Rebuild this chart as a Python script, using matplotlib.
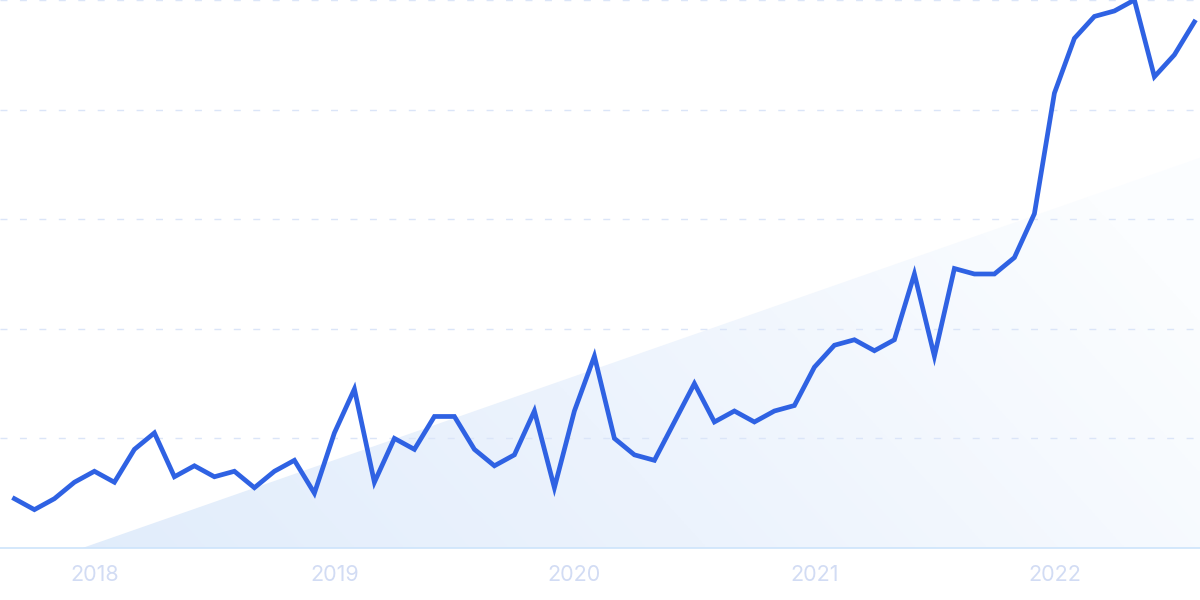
import numpy as np
import matplotlib
matplotlib.use("Agg")
import matplotlib.pyplot as plt
from matplotlib.patches import Polygon
from matplotlib.colors import LinearSegmentedColormap

plt.rcParams['font.family'] = ['Inter', 'DejaVu Sans']

# Monthly values, Sep 2017 .. Aug 2022
values = [9, 7, 9, 12, 14, 12, 18, 21, 13, 15, 13, 14,
          11, 14, 16, 10, 21, 29, 12, 20, 18, 24, 24, 18,
          15, 17, 25, 11, 25, 35, 20, 17, 16, 23, 30, 23,
          25, 23, 25, 26, 33, 37, 38, 36, 38, 50, 35, 51,
          50, 50, 53, 61, 83, 93, 97, 98, 100, 86, 90, 96]
tick_positions = [4, 16, 28, 40, 52]
tick_labels = ["2018", "2019", "2020", "2021", "2022"]
grid_levels = [20, 40, 60, 80, 100]

x = np.arange(len(values))

fig = plt.figure(figsize=(12, 6), dpi=100)
ax = fig.add_axes([0, 1 - 548 / 600, 1, 548 / 600])
xmin, xmax = -0.72, 59.28
ax.set_xlim(xmin, xmax)
ax.set_ylim(0, 100)

# gradient triangle decoration
tri = Polygon([(3.4, 0), (xmax, 71.2), (xmax, 0)], closed=True,
              facecolor='none', edgecolor='none', transform=ax.transData)
ax.add_patch(tri)
cmap = LinearSegmentedColormap.from_list('g', ['#e0ecfb', '#ecf3fd', '#fbfdff'])
gx = np.linspace(0, 1, 400)
gy = np.linspace(0, 1, 100)
GX, GY = np.meshgrid(gx, gy)
grad = np.clip(GX * 0.85 + GY * 0.25, 0, 1)
im = ax.imshow(grad, extent=[xmin, xmax, 0, 71.2], origin='lower',
               cmap=cmap, aspect='auto', zorder=1, vmin=0, vmax=1)
im.set_clip_path(tri)

# grid lines
for g in grid_levels:
    ax.axhline(g, color='#dbe5f8', lw=1.0, ls=(0, (5, 9)), zorder=2, clip_on=False)
ax.axhline(0, color='#cde4fb', lw=1.2, zorder=2, clip_on=False)

ax.plot(x, values, color='#2f62e3', lw=3.4, solid_joinstyle='miter',
        zorder=5, clip_on=False)

for s in ax.spines.values():
    s.set_visible(False)
ax.set_yticks([])
ax.set_xticks(tick_positions)
ax.set_xticklabels(tick_labels, color='#d2dcf4', fontsize=15.5)
ax.tick_params(axis='x', length=0, pad=12)

fig.savefig('out.png', dpi=100)
